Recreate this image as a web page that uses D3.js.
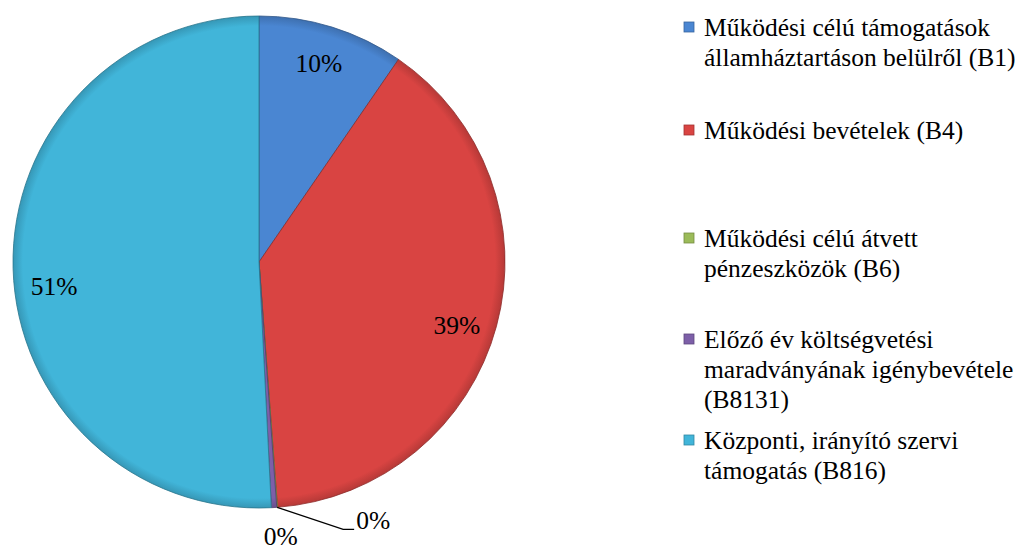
<!DOCTYPE html>
<html><head><meta charset="utf-8">
<script src="https://cdn.jsdelivr.net/npm/d3@7"></script>
<style>body{margin:0;background:#fff}svg{display:block}</style>
</head><body><svg id="c" width="1032" height="550"></svg>
<script>
const categories = [
  ["Működési célú támogatások","államháztartáson belülről (B1)"],
  ["Működési bevételek (B4)"],
  ["Működési célú átvett","pénzeszközök (B6)"],
  ["Előző év költségvetési","maradványának igénybevétele","(B8131)"],
  ["Központi, irányító szervi","támogatás (B816)"]
];
const values = [9.6, 39.2, 0.05, 0.35, 50.8];
const labels = ["10%","39%","0%","0%","51%"];
const colors = ["#4a86d2","#d94442","#9bbb59","#7d5fa8","#41b5d9"];

const FONT = '"Liberation Serif"';
const fs = 25.5;
const svg = d3.select("#c");
const cx = 259, cy = 262, R = 246;
const defs = svg.append("defs");
colors.forEach((c,i)=>{
  const gr = defs.append("radialGradient").attr("id","g"+i)
    .attr("gradientUnits","userSpaceOnUse").attr("cx",0).attr("cy",0).attr("r",R);
  gr.append("stop").attr("offset","0%").attr("stop-color",c);
  gr.append("stop").attr("offset","96%").attr("stop-color",c);
  gr.append("stop").attr("offset","100%").attr("stop-color",d3.color(c).darker(0.5));
});
const pie = d3.pie().sort(null).value(d=>d)(values);
const arc = d3.arc().innerRadius(0).outerRadius(R);
const g = svg.append("g").attr("transform",`translate(${cx},${cy})`);
g.selectAll("path").data(pie).join("path")
  .attr("d",arc)
  .attr("fill",(d,i)=>`url(#g${i})`)
  .attr("stroke",(d,i)=>d3.color(colors[i]).darker(1.2))
  .attr("stroke-width",0.8);

function txt(sel){ return sel.style("font-family",FONT).attr("font-size",fs).attr("fill","#000"); }
const labArc = d3.arc().innerRadius(208).outerRadius(208);
const nudge = {0:[-2,0],1:[-3,9],4:[3,19]};
pie.forEach((d,i)=>{
  const a = (d.startAngle+d.endAngle)/2;
  if (i===2) {
    const sx = Math.sin(a)*R, sy = -Math.cos(a)*R;
    const bx = sx+66, by = sy+22;
    g.append("polyline").attr("points",`${sx},${sy} ${bx},${by} ${bx+11},${by}`)
      .attr("fill","none").attr("stroke","#000").attr("stroke-width",1.3);
    txt(g.append("text")).attr("x",bx+13).attr("y",by-9).attr("dominant-baseline","central").text(labels[i]);
  } else if (i===3) {
    const rr = R+29;
    txt(g.append("text")).attr("x",Math.sin(a)*rr+5).attr("y",-Math.cos(a)*rr)
      .attr("text-anchor","middle").attr("dominant-baseline","central").text(labels[i]);
  } else {
    const [x,y] = labArc.centroid(d);
    const [nx,ny] = nudge[i]||[0,0];
    txt(g.append("text")).attr("x",x+nx).attr("y",y+ny).attr("text-anchor","middle")
      .attr("dominant-baseline","central").text(labels[i]);
  }
});

const legTops = [27,130,238,339,440];
const lg = svg.append("g");
categories.forEach((lines,i)=>{
  const y0 = legTops[i];
  lg.append("rect").attr("x",684).attr("y",y0-5).attr("width",10).attr("height",10)
    .attr("fill",colors[i]).attr("stroke",d3.color(colors[i]).darker(0.8)).attr("stroke-width",0.8);
  lines.forEach((t,j)=>{
    txt(lg.append("text")).attr("x",704).attr("y",y0+j*30).attr("dominant-baseline","central").text(t);
  });
});
</script></body></html>
